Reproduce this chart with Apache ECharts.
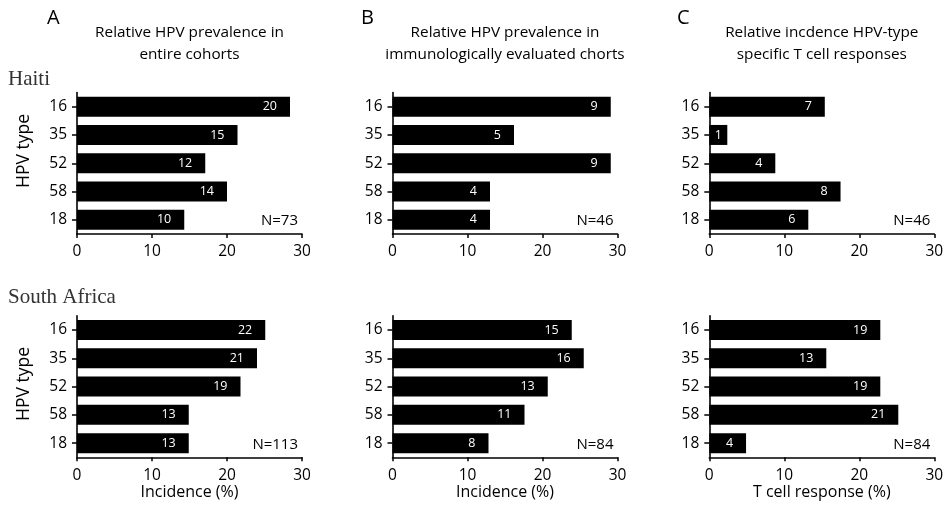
<!DOCTYPE html>
<html>
<head>
<meta charset="utf-8">
<script src="https://cdn.jsdelivr.net/npm/echarts@6/dist/echarts.min.js"></script>
<style>html,body{margin:0;padding:0;background:#fff;}#c{width:950px;height:506px;}</style>
</head>
<body>
<div id="c"></div>
<script>
const categories = ['16', '35', '52', '58', '18'];
const xTicks = ['0', '10', '20', '30'];

// Haiti (percent, bar length) and counts (label inside bar)
const haitiA = [28.4, 21.4, 17.1, 20.0, 14.3];
const haitiACounts = [20, 15, 12, 14, 10];
const haitiB = [29.1, 16.2, 29.1, 13.0, 13.0];
const haitiBCounts = [9, 5, 9, 4, 4];
const haitiC = [15.4, 2.4, 8.8, 17.5, 13.2];
const haitiCCounts = [7, 1, 4, 8, 6];

// South Africa
const saA = [25.1, 24.0, 21.8, 14.9, 14.9];
const saACounts = [22, 21, 19, 13, 13];
const saB = [23.9, 25.5, 20.7, 17.6, 12.8];
const saBCounts = [15, 16, 13, 11, 8];
const saC = [22.8, 15.6, 22.8, 25.2, 4.9];
const saCCounts = [19, 13, 19, 21, 4];

const panelN = ['N=73', 'N=46', 'N=46', 'N=113', 'N=84', 'N=84'];
const panelTitles = [
  ['Relative HPV prevalence in', 'entire cohorts'],
  ['Relative HPV prevalence in', 'immunologically evaluated chorts'],
  ['Relative incdence HPV-type', 'specific T cell responses']
];
const panelLetters = ['A', 'B', 'C'];
const xNames = ['Incidence (%)', 'Incidence (%)', 'T cell response (%)'];
const rowNames = ['Haiti', 'South Africa'];

const values = [haitiA, haitiB, haitiC, saA, saB, saC];
const counts = [haitiACounts, haitiBCounts, haitiCCounts, saACounts, saBCounts, saCCounts];

const FONT = '"Open Sans", "Noto Sans", sans-serif';
const TXT = '#000';
const lefts = [77, 392.5, 709.3];
const tops = [92.5, 315.8];
const W = 225, H = 141.5;

const grids = [], xAxes = [], yAxes = [], series = [], graphics = [];
for (let i = 0; i < 6; i++) {
  const col = i % 3, row = Math.floor(i / 3);
  grids.push({ left: lefts[col], top: tops[row], width: W, height: H, containLabel: false });
  xAxes.push({
    gridIndex: i, type: 'value', min: 0, max: 30, interval: 10,
    axisLine: { show: true, lineStyle: { color: '#000', width: 1.6 } },
    axisTick: { show: true, length: 4, lineStyle: { color: '#000', width: 1.5 } },
    splitLine: { show: false },
    axisLabel: { fontFamily: FONT, fontSize: 15.5, color: TXT, margin: 10,
      formatter: v => xTicks[Math.round(v / 10)] },
    name: row === 1 ? xNames[col] : '',
    nameLocation: 'middle', nameGap: 26,
    nameTextStyle: { fontFamily: FONT, fontSize: 16, color: TXT }
  });
  yAxes.push({
    gridIndex: i, type: 'category', data: categories, inverse: true,
    axisLine: { show: true, lineStyle: { color: '#000', width: 1.6 } },
    axisTick: { show: true, alignWithLabel: true, length: 5, lineStyle: { color: '#000', width: 1.5 } },
    axisLabel: { fontFamily: FONT, fontSize: 15.5, color: TXT, margin: 10 },
    splitLine: { show: false }
  });
  const cnt = counts[i];
  series.push({
    type: 'bar', xAxisIndex: i, yAxisIndex: i, barWidth: 20,
    data: values[i].map(v => v < 4 ? { value: v, label: { position: 'inside' } } : v),
    itemStyle: { color: '#000' },
    label: { show: true, position: 'insideRight', distance: 13, color: '#fff',
      fontFamily: FONT, fontSize: 12.5, formatter: p => String(cnt[p.dataIndex]) },
    silent: true, animation: false
  });
  // N label
  graphics.push({ type: 'text', x: lefts[col] + W - 4, y: tops[row] + H - 13,
    style: { text: panelN[i], fontFamily: FONT, fontSize: 15, fill: TXT, align: 'right', verticalAlign: 'middle' } });
}
// column titles and letters
const letterX = [47, 361, 677];
for (let c = 0; c < 3; c++) {
  const cx = lefts[c] + W / 2;
  graphics.push({ type: 'text', x: cx, y: 33, style: { text: panelTitles[c][0], fontFamily: FONT, fontSize: 15.3, fill: TXT, align: 'center', verticalAlign: 'middle' } });
  graphics.push({ type: 'text', x: cx, y: 55, style: { text: panelTitles[c][1], fontFamily: FONT, fontSize: 15.3, fill: TXT, align: 'center', verticalAlign: 'middle' } });
  graphics.push({ type: 'text', x: letterX[c], y: 18, style: { text: panelLetters[c], fontFamily: FONT, fontSize: 20, fill: TXT, align: 'left', verticalAlign: 'middle' } });
}
// row names
graphics.push({ type: 'text', x: 8, y: 79, style: { text: rowNames[0], fontFamily: '"Liberation Serif", serif', fontSize: 21, fill: '#333', align: 'left', verticalAlign: 'middle' } });
graphics.push({ type: 'text', x: 8, y: 297, style: { text: rowNames[1], fontFamily: '"Liberation Serif", serif', fontSize: 21, fill: '#333', align: 'left', verticalAlign: 'middle' } });
// HPV type labels
[151, 384].forEach(y => {
  graphics.push({ type: 'text', x: 24, y: y, rotation: Math.PI / 2,
    style: { text: 'HPV type', fontFamily: FONT, fontSize: 17.5, fill: TXT, align: 'center', verticalAlign: 'middle' } });
});

const chart = echarts.init(document.getElementById('c'), null, { renderer: 'canvas' });
chart.setOption({
  animation: false,
  grid: grids, xAxis: xAxes, yAxis: yAxes, series: series, graphic: graphics
});
</script>
</body>
</html>
